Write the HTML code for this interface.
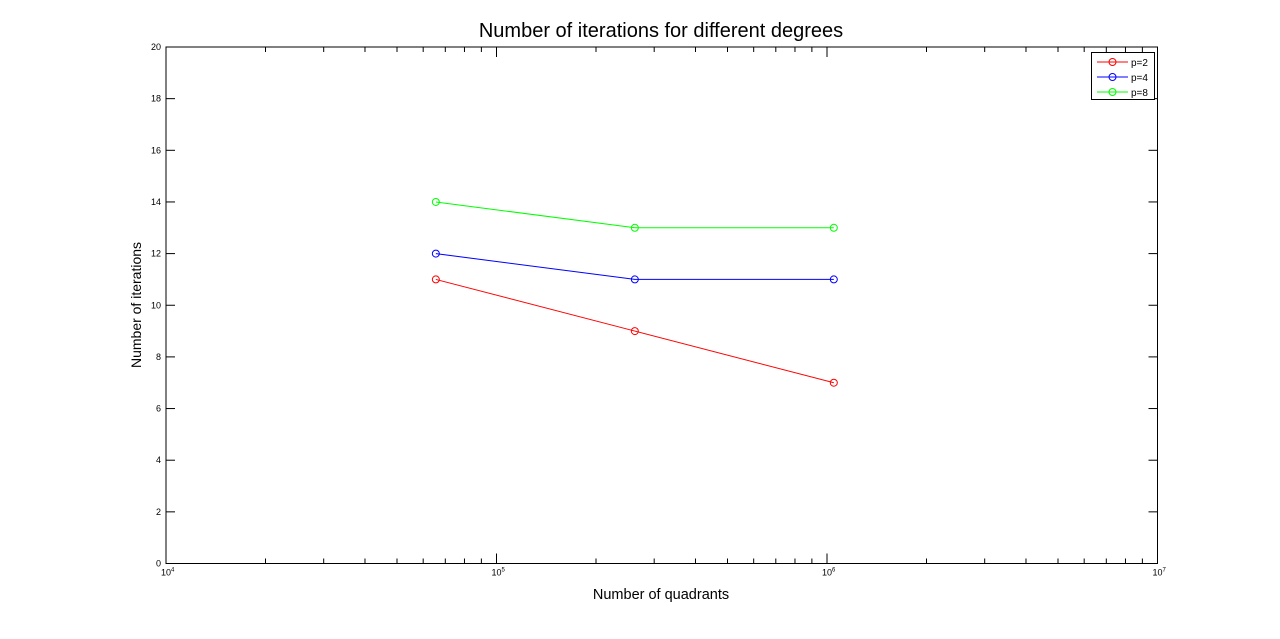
<!DOCTYPE html>
<html><head><meta charset="utf-8"><style>
body{margin:0;background:#fff;width:1280px;height:634px;overflow:hidden}
svg{font-family:"Liberation Sans",sans-serif}
</style></head><body>
<svg id="chart" width="1280" height="634" xmlns="http://www.w3.org/2000/svg"></svg>
<script>
const xValues=[65536,262144,1048576];
const seriesNames=["p=2","p=4","p=8"];
const seriesColors=["#ff0000","#0000ff","#00ff00"];
const series2=[11,9,7];
const series4=[12,11,11];
const series8=[14,13,13];
const yTicks=[0,2,4,6,8,10,12,14,16,18,20];
const xDecades=[4,5,6,7];
const allSeries=[series2,series4,series8];

const L=166,R=1157.5,T=47,B=563.5;
const NS="http://www.w3.org/2000/svg";
const svg=document.getElementById('chart');
function X(v){return L+(Math.log10(v)-4)/3*(R-L);}
function Y(v){return B-v/20*(B-T);}
function mk(tag,attrs,parent){const e=document.createElementNS(NS,tag);for(const k in attrs)e.setAttribute(k,attrs[k]);(parent||svg).appendChild(e);return e;}

const title=mk('text',{x:661,y:37,'text-anchor':'middle','font-size':20});
title.textContent='Number of iterations for different degrees';



const ax=mk('g',{stroke:'#000','stroke-width':1,fill:'none'});


mk('rect',{x:L,y:T,width:R-L,height:B-T},ax);

yTicks.forEach(t=>{
  const y=Y(t);
  mk('line',{x1:L,y1:y,x2:L+9,y2:y},ax);
  mk('line',{x1:R,y1:y,x2:R-9,y2:y},ax);
  const tx=mk('text',{x:L-5,y:y+3,'text-anchor':'end','font-size':9});
  tx.textContent=t;
  
  
});
xDecades.forEach((d,i)=>{
  const x=X(Math.pow(10,d));
  mk('line',{x1:x,y1:B,x2:x,y2:B-10},ax);
  mk('line',{x1:x,y1:T,x2:x,y2:T+10},ax);
  if(i<xDecades.length-1){
    for(let m=2;m<10;m++){
      const xm=X(m*Math.pow(10,d));
      mk('line',{x1:xm,y1:B,x2:xm,y2:B-5},ax);
      mk('line',{x1:xm,y1:T,x2:xm,y2:T+5},ax);
    }
  }
  const tx=mk('text',{x:x-5,y:B+12,'font-size':9});
  tx.innerHTML='10<tspan dy="-4" font-size="6">'+d+'</tspan>';
  
  
});

const xl=mk('text',{x:661,y:599,'text-anchor':'middle','font-size':14.5});
xl.textContent='Number of quadrants';


const yl=mk('text',{x:0,y:0,'text-anchor':'middle','font-size':14,transform:'translate(141,305) rotate(-90)'});
yl.textContent='Number of iterations';



allSeries.forEach((s,si)=>{
  const g=mk('g',{stroke:seriesColors[si],fill:'none','stroke-width':1});
  
  
  mk('polyline',{points:s.map((v,i)=>X(xValues[i])+','+Y(v)).join(' ')},g);
  s.forEach((v,i)=>{
    const c=mk('circle',{cx:X(xValues[i]),cy:Y(v),r:3.5},g);
    
    
  });
});

const lg=mk('g',{});


mk('rect',{x:1091.5,y:52.5,width:63,height:47,fill:'#fff',stroke:'#000'},lg);
seriesNames.forEach((n,i)=>{
  const y=62+i*15;
  const e=mk('g',{},lg);
  
  
  mk('line',{x1:1097,y1:y,x2:1128,y2:y,stroke:seriesColors[i]},e);
  mk('circle',{cx:1112.5,cy:y,r:3.5,stroke:seriesColors[i],fill:'none'},e);
  const t=mk('text',{x:1131,y:y+4,'font-size':10},e);
  t.textContent=n;
});
</script>
</body></html>
